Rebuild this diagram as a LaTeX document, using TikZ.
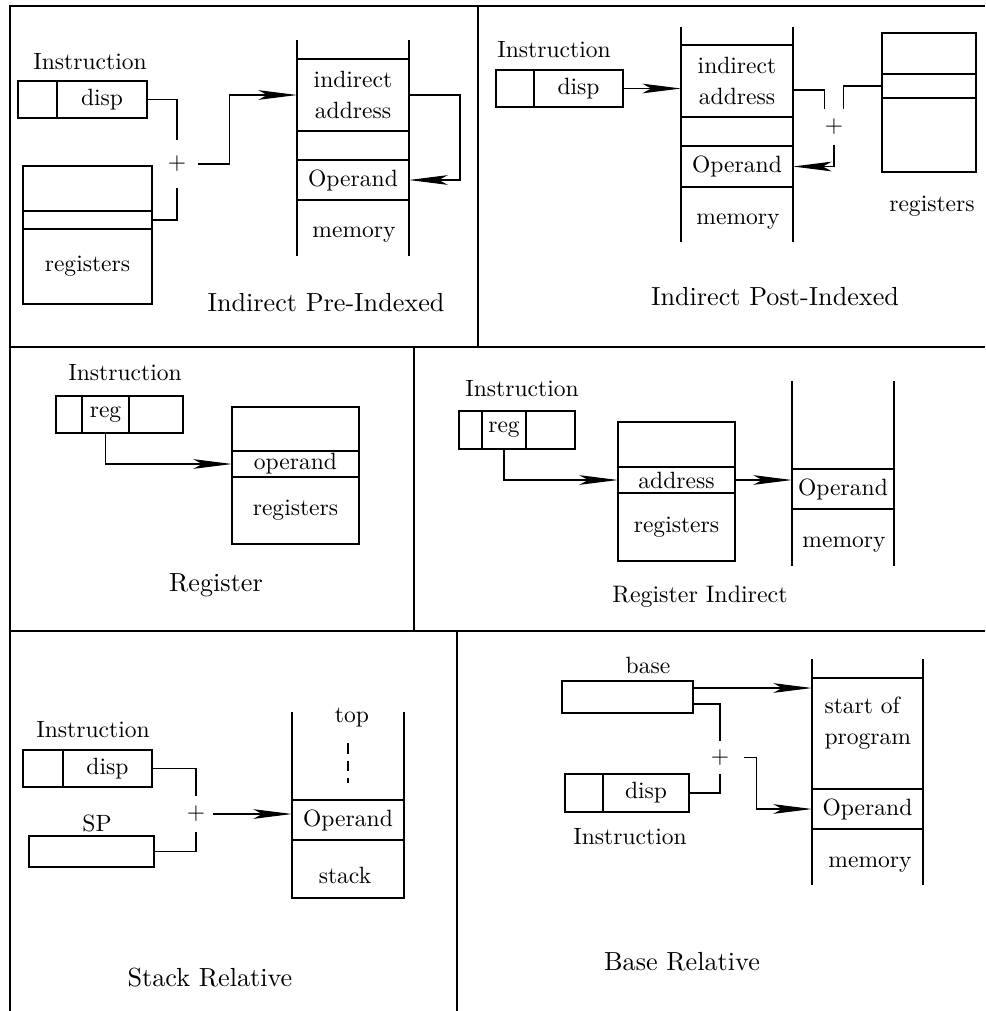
\documentclass[tikz,border=0pt]{standalone}
\usepackage{fontspec}
\setmainfont{lmroman10-regular.otf}
\usepackage{tikz}
\usetikzlibrary{positioning,arrows.meta}

\newlength{\pxu}
\setlength{\pxu}{0.02cm}

\tikzset{
  lbl/.style={font=\fontsize{13.4}{18}\selectfont, inner sep=0pt},
  ttl/.style={font=\fontsize{14.9}{18}\selectfont, inner sep=0pt},
  cell/.style 2 args={lbl, outer sep=0pt, align=center, minimum width=#1*\pxu, minimum height=#2*\pxu},
  box/.style 2 args={cell={#1}{#2}, draw},
  sum/.style 2 args={lbl, minimum width=#1*\pxu, minimum height=#2*\pxu},
  arr/.style={-{Stealth[length=22pt, width=5.5pt, inset=5pt]}},
}

\begin{document}
\begin{tikzpicture}[x=0.02cm, y=-0.02cm, line width=0.6pt]
\useasboundingbox (0,0) rectangle (985,1011);

% frame
\draw (10,1011) -- (10,6) -- (985,6);
\draw (10,347) -- (985,347) (10,631) -- (985,631);
\draw (478,6) -- (478,347) (414,347) -- (414,631) (457,631) -- (457,1011);

% Indirect Pre-Indexed
\node[lbl] (ilab1) at (90,62) {Instruction};
\node[box={39}{37}] (ins1f) at (37.5,99.5) {};
\node[box={90}{37}, right=0pt of ins1f] (ins1d) {disp};
\node[box={129}{45}] (reg1a) at (87.5,188.5) {};
\node[box={129}{18}, below=0pt of reg1a] (reg1b) {};
\node[box={129}{75}, below=0pt of reg1b] (reg1c) {registers};
\node[sum={40}{46}] (plus1) at (177,164) {+};
\node[cell={112}{19}] (m1top) at (353,49.5) {};
\node[cell={112}{72}, below=0pt of m1top] (addr1) {indirect\\address};
\node[cell={112}{29}, below=0pt of addr1] (m1gap) {};
\node[cell={112}{40}, below=0pt of m1gap] (op1) {Operand};
\node[cell={112}{56}, below=0pt of op1] (m1bot) {};
\node[lbl] (mlab1) at (354,235) {memory};
\draw (m1top.north west) -- (m1bot.south west) (m1top.north east) -- (m1bot.south east);
\draw (addr1.north west) -- (addr1.north east) (m1gap.north west) -- (m1gap.north east)
      (op1.north west) -- (op1.north east) (m1bot.north west) -- (m1bot.north east);
\draw (ins1d.east) -| (plus1.north);
\draw (reg1b.east) -| (plus1.south);
\draw[arr] (plus1.east) -- ++(32,0) |- (addr1.west);
\draw[arr] (addr1.east) -- ++(51,0) |- (op1.east);
\node[ttl] (t1) at (326,303) {Indirect Pre-Indexed};

% Indirect Post-Indexed
\node[lbl] (ilab2) at (554,50) {Instruction};
\node[box={38}{37}] (ins2f) at (515,88.5) {};
\node[box={89}{37}, right=0pt of ins2f] (ins2d) {disp};
\node[cell={112}{18}] (m2top) at (737,36) {};
\node[cell={112}{72}, below=0pt of m2top] (addr2) {indirect\\address};
\node[cell={112}{29}, below=0pt of addr2] (m2gap) {};
\node[cell={112}{41}, below=0pt of m2gap] (op2) {Operand};
\node[cell={112}{55}, below=0pt of op2] (m2bot) {};
\node[lbl] (mlab2) at (738,222) {memory};
\draw (m2top.north west) -- (m2bot.south west) (m2top.north east) -- (m2bot.south east);
\draw (addr2.north west) -- (addr2.north east) (m2gap.north west) -- (m2gap.north east)
      (op2.north west) -- (op2.north east) (m2bot.north west) -- (m2bot.north east);
\node[box={94}{41}] (reg2a) at (929,53.5) {};
\node[box={94}{24}, below=0pt of reg2a] (reg2b) {};
\node[box={94}{74}, below=0pt of reg2b] (reg2c) {};
\node[lbl] (rlab2) at (932,206) {registers};
\node[sum={18}{34}] (plus2) at (834,127) {+};
\draw[arr] (ins2d.east) -- (ins2d.east -| addr2.west);
\draw ([yshift=-9*\pxu]addr2.east) -| (plus2.north west);
\draw (reg2b.west) -| (plus2.north east);
\draw[arr] (plus2.south) |- (op2.east);
\node[ttl] (t2) at (775,297) {Indirect Post-Indexed};

% Register
\node[lbl] (ilab3) at (125,373) {Instruction};
\node[box={26}{37}] (ins3a) at (69,414.5) {};
\node[box={47}{37}, right=0pt of ins3a] (ins3r) {reg};
\node[box={54}{37}, right=0pt of ins3r] (ins3c) {};
\node[box={127}{44}] (reg3a) at (295.5,429) {};
\node[box={127}{26}, below=0pt of reg3a] (op3) {operand};
\node[box={127}{67}, below=0pt of op3] (reg3c) {registers};
\draw[arr] (ins3r.south) |- (op3.west);
\node[ttl] (t3) at (216,585) {Register};

% Register Indirect
\node[lbl] (ilab4) at (522,389) {Instruction};
\node[box={23}{38}] (ins4a) at (470.5,430) {};
\node[box={44}{38}, right=0pt of ins4a] (ins4r) {reg};
\node[box={49}{38}, right=0pt of ins4r] (ins4c) {};
\node[box={117}{45}] (reg4a) at (676.5,444.5) {};
\node[box={117}{26}, below=0pt of reg4a] (adr4) {address};
\node[box={117}{68}, below=0pt of adr4] (reg4c) {registers};
\node[cell={102}{88}] (m4top) at (843,425) {};
\node[cell={102}{40}, below=0pt of m4top] (op4) {Operand};
\node[cell={102}{57}, below=0pt of op4] (m4bot) {};
\node[lbl] (mlab4) at (844,545) {memory};
\draw (m4top.north west) -- (m4bot.south west) (m4top.north east) -- (m4bot.south east);
\draw (op4.north west) -- (op4.north east) (m4bot.north west) -- (m4bot.north east);
\draw[arr] (ins4r.south) |- (adr4.west);
\draw[arr] (adr4.east) -- (adr4.east -| op4.west);
\node[ttl, font=\fontsize{13.6}{18}\selectfont] (t4) at (700,597) {Register Indirect};

% Stack Relative
\node[lbl] (ilab5) at (93,730) {Instruction};
\node[box={40}{37}] (ins5f) at (43,768.5) {};
\node[box={89}{37}, right=0pt of ins5f] (ins5d) {disp};
\node[lbl] (splab) at (97,823) {SP};
\node[box={125}{31}] (sp5) at (91.5,851.5) {};
\node[sum={32}{34}] (plus5) at (196,814) {+};
\node[cell={112}{88}] (s5top) at (348,756) {};
\node[cell={112}{40}, below=0pt of s5top] (op5) {Operand};
\node[cell={112}{58}, below=0pt of op5] (s5bot) {};
\node[lbl] (slab5) at (345,875) {stack};
\node[lbl] (toplab) at (352,718) {top};
\draw (s5top.north west) -- (s5bot.south west) -- (s5bot.south east) -- (s5top.north east);
\draw (op5.north west) -- (op5.north east) (s5bot.north west) -- (s5bot.north east);
\draw[dash pattern=on 6pt off 4pt] (348,743) -- (348,783);
\draw (ins5d.east) -| (plus5.north);
\draw (sp5.east) -| (plus5.south);
\draw[arr] (plus5.east) -- (plus5.east -| op5.west);
\node[ttl] (t5) at (210,978) {Stack Relative};

% Base Relative
\node[lbl] (blab) at (648,665) {base};
\node[box={131}{32}] (base6) at (627.5,697) {};
\node[box={38}{38}] (ins6f) at (584,793) {};
\node[box={86}{38}, right=0pt of ins6f] (ins6d) {disp};
\node[lbl] (ilab6) at (630,837) {Instruction};
\node[sum={46}{31}] (plus6) at (720,757.5) {+};
\node[cell={111}{19}] (m6top) at (867.5,668.5) {};
\node[cell={111}{111}, below=0pt of m6top] (prog6) {};
\node[cell={111}{40}, below=0pt of prog6] (op6) {Operand};
\node[cell={111}{56}, below=0pt of op6] (m6bot) {};
\node[lbl, align=left, anchor=west] (plab) at (824,723) {start of\\program};
\node[lbl] (mlab6) at (870,865) {memory};
\draw (m6top.north west) -- (m6bot.south west) (m6top.north east) -- (m6bot.south east);
\draw (prog6.north west) -- (prog6.north east) (op6.north west) -- (op6.north east)
      (m6bot.north west) -- (m6bot.north east);
\draw[arr] ([yshift=9*\pxu]base6.east) -- ([yshift=9*\pxu]base6.east -| prog6.west);
\draw ([yshift=-7*\pxu]base6.east) -| (plus6.north);
\draw (ins6d.east) -| (plus6.south);
\draw[arr] (plus6.east) -- ++(13,0) |- (op6.west);
\node[ttl] (t6) at (682,962) {Base Relative};
\end{tikzpicture}
\end{document}
